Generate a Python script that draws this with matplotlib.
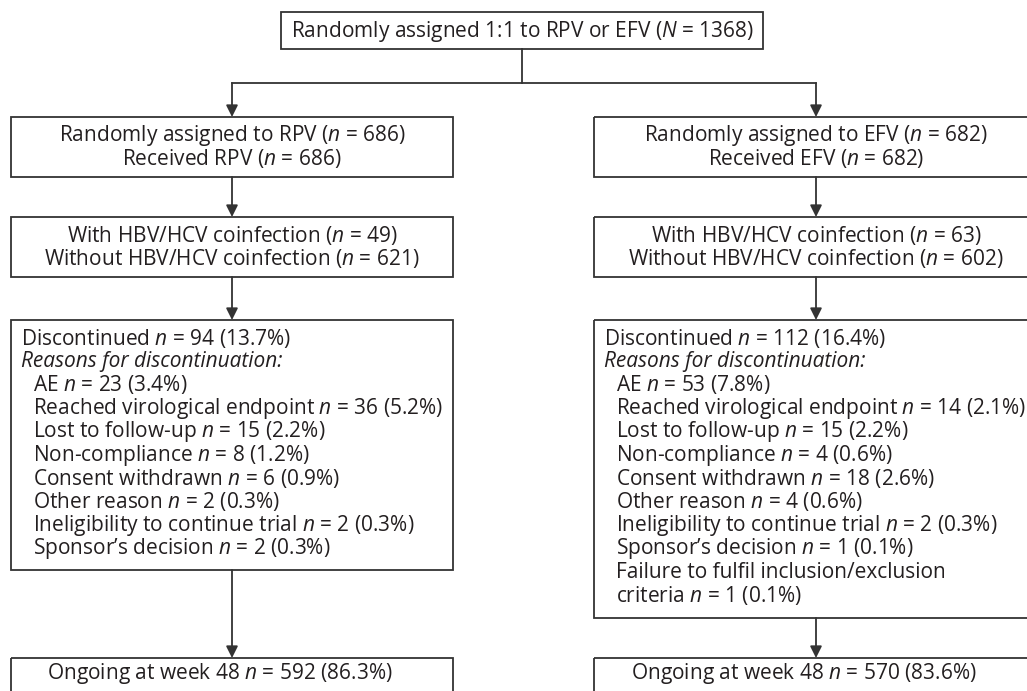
import matplotlib.pyplot as plt
from matplotlib.patches import Rectangle

plt.rcParams['font.family'] = 'Open Sans'
plt.rcParams['mathtext.fontset'] = 'custom'
plt.rcParams['mathtext.rm'] = 'Open Sans'
plt.rcParams['mathtext.it'] = 'Open Sans:italic'

# texte der boxen
top_text = "Randomly assigned 1:1 to RPV or EFV ($N$ = 1368)"

rpv_assigned = ["Randomly assigned to RPV ($n$ = 686)", "Received RPV ($n$ = 686)"]
efv_assigned = ["Randomly assigned to EFV ($n$ = 682)", "Received EFV ($n$ = 682)"]

rpv_coinf = ["With HBV/HCV coinfection ($n$ = 49)", "Without HBV/HCV coinfection ($n$ = 621)"]
efv_coinf = ["With HBV/HCV coinfection ($n$ = 63)", "Without HBV/HCV coinfection ($n$ = 602)"]

rpv_disc_head = "Discontinued $n$ = 94 (13.7%)"
efv_disc_head = "Discontinued $n$ = 112 (16.4%)"
reasons_head = "Reasons for discontinuation:"

rpv_reasons = ["AE $n$ = 23 (3.4%)",
               "Reached virological endpoint $n$ = 36 (5.2%)",
               "Lost to follow-up $n$ = 15 (2.2%)",
               "Non-compliance $n$ = 8 (1.2%)",
               "Consent withdrawn $n$ = 6 (0.9%)",
               "Other reason $n$ = 2 (0.3%)",
               "Ineligibility to continue trial $n$ = 2 (0.3%)",
               "Sponsor\u2019s decision $n$ = 2 (0.3%)"]
efv_reasons = ["AE $n$ = 53 (7.8%)",
               "Reached virological endpoint $n$ = 14 (2.1%)",
               "Lost to follow-up $n$ = 15 (2.2%)",
               "Non-compliance $n$ = 4 (0.6%)",
               "Consent withdrawn $n$ = 18 (2.6%)",
               "Other reason $n$ = 4 (0.6%)",
               "Ineligibility to continue trial $n$ = 2 (0.3%)",
               "Sponsor\u2019s decision $n$ = 1 (0.1%)",
               "Failure to fulfil inclusion/exclusion",
               "criteria $n$ = 1 (0.1%)"]

rpv_ongoing = "Ongoing at week 48 $n$ = 592 (86.3%)"
efv_ongoing = "Ongoing at week 48 $n$ = 570 (83.6%)"

W, H = 1027, 691
fig = plt.figure(figsize=(W / 100, H / 100), dpi=100)
ax = fig.add_axes([0, 0, 1, 1])
ax.set_xlim(0, W)
ax.set_ylim(H, 0)
ax.axis('off')

lc = '#333333'
tc = '#231f20'
fs = 15
lh = 23    # zeilenabstand kleine boxen
lh2 = 23.4  # zeilenabstand gruende


def box(x0, y0, x1, y1):
    ax.add_patch(Rectangle((x0, y0), x1 - x0, y1 - y0, fill=False, ec=lc, lw=1.3))


def arrow(x, y0, y1):
    ax.annotate('', xy=(x, y1), xytext=(x, y0),
                arrowprops=dict(arrowstyle='-|>,head_length=0.7,head_width=0.35',
                                color=lc, lw=1.3, shrinkA=0, shrinkB=0))


def centered(lines, cx, y_first):
    for i, s in enumerate(lines):
        ax.text(cx, y_first + i * lh, s, ha='center', va='center', fontsize=fs, color=tc)


# oberste box
box(281, 12, 763, 49)
ax.text(522, 31, top_text, ha='center', va='center', fontsize=fs, color=tc)
ax.plot([522, 522], [49, 83], color=lc, lw=1.3)
ax.plot([232, 816], [83, 83], color=lc, lw=1.3)

cols = [(11, 453, 232, rpv_assigned, rpv_coinf, rpv_disc_head, rpv_reasons, rpv_ongoing, 570),
        (594, 1036, 816, efv_assigned, efv_coinf, efv_disc_head, efv_reasons, efv_ongoing, 618)]

for x0, x1, cx, assigned, coinf, disc_head, reasons, ongoing, b4 in cols:
    arrow(cx, 83, 117)
    box(x0, 117, x1, 177)
    centered(assigned, cx, 135)
    arrow(cx, 177, 217)
    box(x0, 217, x1, 277)
    centered(coinf, cx, 235)
    arrow(cx, 277, 320)
    box(x0, 320, x1, b4)
    ax.text(x0 + 10, 338, disc_head, ha='left', va='center', fontsize=fs, color=tc)
    ax.text(x0 + 10, 338 + lh2, reasons_head, ha='left', va='center', fontsize=fs,
            color=tc, style='italic')
    for i, s in enumerate(reasons):
        ax.text(x0 + 22, 338 + (i + 2) * lh2, s, ha='left', va='center', fontsize=fs, color=tc)
    arrow(cx, b4, 658)
    box(x0, 658, x1, 720)
    ax.text(cx - 12, 674, ongoing, ha='center', va='center', fontsize=fs, color=tc)

plt.savefig('out.png', dpi=100)
